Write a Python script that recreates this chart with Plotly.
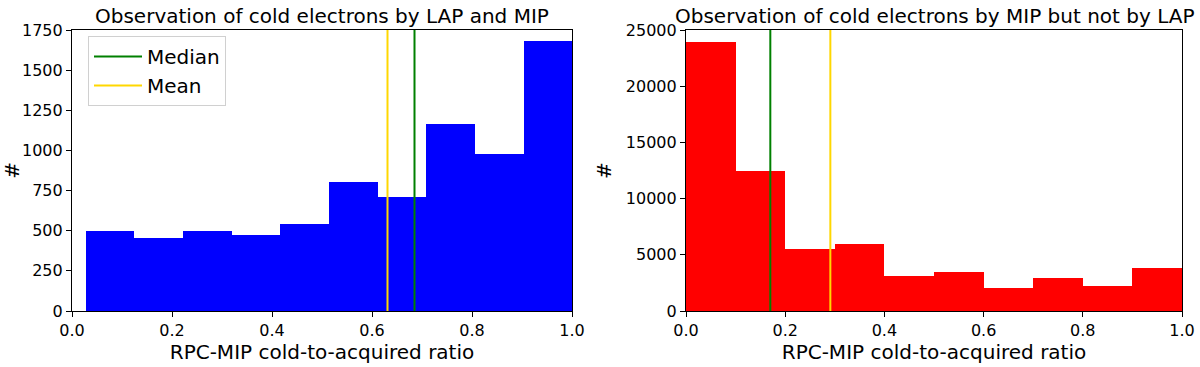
import plotly.graph_objects as go

# left panel: cold electrons seen by LAP and MIP
left_edges = [0.027, 0.124, 0.222, 0.319, 0.416, 0.514, 0.611, 0.708, 0.805, 0.903, 1.0]
left_counts = [501, 452, 501, 472, 544, 803, 713, 1167, 976, 1682]
left_median = 0.685
left_mean = 0.631

# right panel: seen by MIP but not by LAP
right_edges = [0.0, 0.1, 0.2, 0.3, 0.4, 0.5, 0.6, 0.7, 0.8, 0.9, 1.0]
right_counts = [23950, 12470, 5546, 5957, 3110, 3492, 2083, 2905, 2230, 3844]
right_median = 0.170
right_mean = 0.291

titles = ["Observation of cold electrons by LAP and MIP",
          "Observation of cold electrons by MIP but not by LAP"]
x_label = "RPC-MIP cold-to-acquired ratio"
y_label = "#"
x_ticks = [0.0, 0.2, 0.4, 0.6, 0.8, 1.0]
left_yticks = [0, 250, 500, 750, 1000, 1250, 1500, 1750]
right_yticks = [0, 5000, 10000, 15000, 20000, 25000]

FONT = "DejaVu Sans"
W, H = 1200, 367
ML, MR, MT, MB = 72, 18, 30, 56
PW = W - ML - MR
PH = H - MT - MB


def px_x(p):
    # figure pixel -> plot-area paper fraction
    return (p - ML) / PW


def px_y(p):
    return (H - MB - p) / PH


x_dom1 = [0, px_x(572)]
x_dom2 = [px_x(686), 1]

fig = go.Figure()


def add_hist(edges, counts, color, xa, ya):
    widths = [b - a for a, b in zip(edges[:-1], edges[1:])]
    fig.add_trace(go.Bar(x=edges[:-1], y=counts, width=widths, offset=0,
                         marker=dict(color=color, line=dict(width=0)),
                         showlegend=False, xaxis=xa, yaxis=ya,
                         hoverinfo="x+y"))


def add_vline(xv, ymax, color, name, xa, ya, legend):
    fig.add_trace(go.Scatter(x=[xv, xv], y=[0, ymax], mode="lines",
                             line=dict(color=color, width=2), name=name,
                             showlegend=legend, xaxis=xa, yaxis=ya))


add_hist(left_edges, left_counts, "#0000ff", "x", "y")
add_vline(left_median, left_yticks[-1], "#008000", "Median", "x", "y", True)
add_vline(left_mean, left_yticks[-1], "#ffd700", "Mean", "x", "y", True)

add_hist(right_edges, right_counts, "#ff0000", "x2", "y2")
add_vline(right_median, right_yticks[-1], "#008000", "Median", "x2", "y2", False)
add_vline(right_mean, right_yticks[-1], "#ffd700", "Mean", "x2", "y2", False)

axis_common = dict(showline=True, mirror=True, linecolor="black", linewidth=1.2,
                   ticks="outside", ticklen=5, tickcolor="black",
                   showgrid=False, zeroline=False, automargin=False,
                   tickfont=dict(family=FONT, size=16, color="black"))

fig.update_layout(
    width=W, height=H,
    margin=dict(l=ML, r=MR, t=MT, b=MB, autoexpand=False),
    plot_bgcolor="white", paper_bgcolor="white",
    font=dict(family=FONT, color="black"),
    bargap=0,
    xaxis=dict(domain=x_dom1, range=[0, 1], tickvals=x_ticks, tickformat=".1f",
               anchor="y",
               title=dict(text=x_label, font=dict(size=20), standoff=4),
               **axis_common),
    yaxis=dict(domain=[0, 1], range=[0, left_yticks[-1]], tickvals=left_yticks,
               tickformat="d", anchor="x",
               title=dict(text=y_label, font=dict(size=20), standoff=8),
               **axis_common),
    xaxis2=dict(domain=x_dom2, range=[0, 1], tickvals=x_ticks, tickformat=".1f",
                anchor="y2",
                title=dict(text=x_label, font=dict(size=20), standoff=4),
                **axis_common),
    yaxis2=dict(domain=[0, 1], range=[0, right_yticks[-1]], tickvals=right_yticks,
                tickformat="d", anchor="x2",
                title=dict(text=y_label, font=dict(size=20), standoff=8),
                **axis_common),
    legend=dict(x=px_x(88), y=px_y(36), xanchor="left", yanchor="top",
                bgcolor="white", bordercolor="#d0d0d0", borderwidth=1,
                font=dict(family=FONT, size=20, color="black"),
                tracegroupgap=0, itemwidth=48),
    annotations=[
        dict(text=titles[0], x=sum(x_dom1) / 2, y=1, xref="paper",
             yref="paper", xanchor="center", yanchor="bottom", yshift=0,
             showarrow=False, font=dict(family=FONT, size=20)),
        dict(text=titles[1], x=sum(x_dom2) / 2, y=1, xref="paper",
             yref="paper", xanchor="center", yanchor="bottom", yshift=0,
             showarrow=False, font=dict(family=FONT, size=20)),
    ],
)

# the page's default body margin would push the 1200x367 figure off-screen
fig.write_html("out.html", config={"displayModeBar": False},
               post_script="document.body.style.margin='0px';")
